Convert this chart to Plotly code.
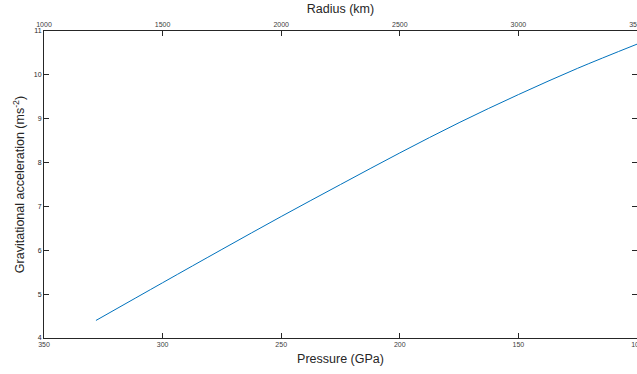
import plotly.graph_objects as go

pressure_gpa = [328.1, 300.0, 275.0, 250.0, 225.0, 200.0, 175.0, 150.0, 125.0, 100.0]
gravity_ms2 = [4.40, 5.26, 6.02, 6.77, 7.50, 8.22, 8.91, 9.55, 10.15, 10.70]

pressure_ticks = [350, 300, 250, 200, 150, 100]
radius_ticks = [1000, 1500, 2000, 2500, 3000, 3500]
gravity_ticks = [4, 5, 6, 7, 8, 9, 10, 11]

axis_color = "#262626"
font_family = "Liberation Sans, Arial, sans-serif"

fig = go.Figure()
fig.add_trace(go.Scatter(x=pressure_gpa, y=gravity_ms2, mode="lines",
                         line=dict(color="#0072BD", width=1), showlegend=False,
                         line_shape="spline"))
# invisible trace to anchor top axis
fig.add_trace(go.Scatter(x=[radius_ticks[0], radius_ticks[-1]], y=[None, None], xaxis="x2",
                         mode="lines", showlegend=False, hoverinfo="skip"))

fig.update_layout(
    width=637, height=374,
    margin=dict(l=44, r=0, t=31, b=36, autoexpand=False),
    paper_bgcolor="white", plot_bgcolor="white",
    font=dict(family=font_family, color=axis_color),
    xaxis=dict(
        range=[350, 100], tickvals=pressure_ticks, ticks="inside", ticklen=5,
        tickcolor=axis_color, showline=True, linecolor=axis_color, linewidth=1,
        showgrid=False, zeroline=False, tickfont=dict(size=7, color="#404040"),
        ticklabeloverflow="allow", automargin=False,
        title=dict(text="Pressure (GPa)", font=dict(size=12.5, color="#262626"), standoff=6),
    ),
    xaxis2=dict(
        overlaying="x", side="top", range=[1000, 3500], tickvals=radius_ticks,
        ticks="inside", ticklen=5, tickcolor=axis_color, showline=True,
        linecolor=axis_color, linewidth=1, showgrid=False, zeroline=False,
        tickfont=dict(size=7, color="#404040"), ticklabeloverflow="allow", automargin=False,
        title=dict(text="Radius (km)", font=dict(size=12.5, color="#262626"), standoff=4),
    ),
    yaxis=dict(
        range=[4, 11], tickvals=gravity_ticks, ticks="inside", ticklen=5,
        tickcolor=axis_color, showline=True, linecolor=axis_color, linewidth=1,
        mirror="ticks", showgrid=False, zeroline=False, automargin=False,
        tickfont=dict(size=7, color="#262626"),
        title=dict(text="Gravitational acceleration (ms<sup>-2</sup>)",
                   font=dict(size=12.5, color="#262626"), standoff=6),
    ),
)

fig.write_html("out.html")
